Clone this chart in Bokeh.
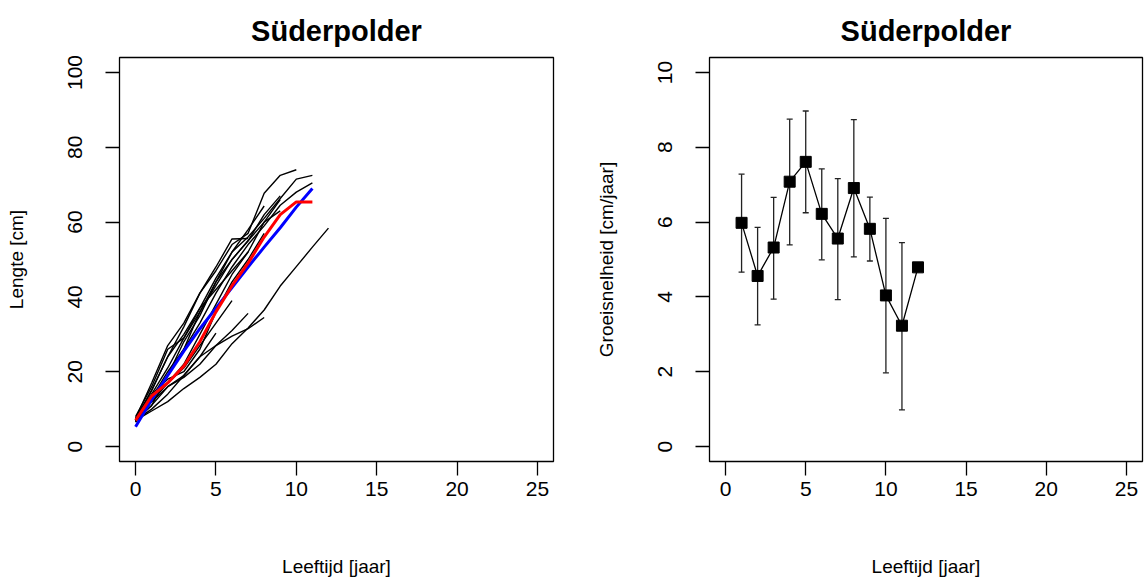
from bokeh.plotting import figure
from bokeh.layouts import row
from bokeh.models import Whisker, TeeHead, ColumnDataSource, FixedTicker, Range1d
from bokeh.embed import file_html
from bokeh.resources import INLINE

# ---------------- data ----------------
title_text = "Süderpolder"
x_label = "Leeftijd [jaar]"
y_label_left = "Lengte [cm]"
y_label_right = "Groeisnelheid [cm/jaar]"

x_ticks = [0, 5, 10, 15, 20, 25]
y_ticks_left = [0, 20, 40, 60, 80, 100]
y_ticks_right = [0, 2, 4, 6, 8, 10]

# individual back-calculated lengths (cm), index = age (years)
fish_a = [7.5, 17, 27, 33, 41, 47, 54, 57, 67.7, 72.5, 74.0]
fish_b = [7, 15, 24, 30, 37, 45, 52, 56, 61, 66.3, 71.5, 72.5]
fish_c = [6.5, 13, 20, 26, 33, 41, 48, 54, 59, 64.5, 68, 70.5]
fish_d = [7, 9.5, 12, 15.5, 18.5, 22, 27.5, 31.7, 36.5, 42.9, 48.1, 53.3, 58.4]
fish_e = [7, 11, 16, 18.5, 22, 27, 31, 35.6]
fish_f = [7, 10, 14, 19, 24, 27, 29.5, 31.5, 34.5]
fish_g = [7.5, 15, 24, 32, 41, 48, 55.5, 55.6]
fish_h = [7, 13, 19, 28, 35, 44, 52, 58, 64.3]
fish_i = [8, 16, 26, 29, 36, 43, 50, 55, 62, 67]
fish_j = [7, 12, 17, 22, 30, 38, 46, 52, 60, 66]
fish_k = [6.5, 14, 18, 20, 26, 36, 44, 50, 57]
fish_l = [7, 12, 16, 19, 24, 30.3]
fish_m = [7, 13, 17, 21, 27, 33, 39]
fish_n = [7, 14, 21, 29, 37, 42, 47, 52]
fish_o = [7, 11, 19, 26, 36, 44, 50, 55, 60, 63]
individual_fish = [fish_a, fish_b, fish_c, fish_d, fish_e, fish_f, fish_g, fish_h,
                   fish_i, fish_j, fish_k, fish_l, fish_m, fish_n, fish_o]

# mean length per age (red) and fitted growth curve (blue)
mean_age = [0, 1, 2, 3, 4, 5, 6, 7, 8, 9, 10, 11]
mean_length = [7, 13.5, 17, 21.5, 28, 36, 43, 49, 56, 62, 65.4, 65.4]
fit_age = [0, 1, 2, 3, 4, 5, 6, 7, 8, 9, 10, 11]
fit_length = [5.3, 12.5, 19, 25.5, 31.5, 37, 42.5, 48, 53.3, 58.5, 64, 69]

# growth rate (right panel)
growth_age = [1, 2, 3, 4, 5, 6, 7, 8, 9, 10, 11, 12]
growth_rate = [5.98, 4.56, 5.32, 7.08, 7.61, 6.22, 5.56, 6.91, 5.82, 4.04, 3.23, 4.79]
growth_upper = [7.28, 5.86, 6.66, 8.75, 8.97, 7.42, 7.16, 8.74, 6.67, 6.10, 5.45, None]
growth_lower = [4.66, 3.25, 3.94, 5.39, 6.25, 4.99, 3.93, 5.07, 4.96, 1.97, 0.98, None]

FONT = "Liberation Sans"


def style(p, yticks, ylabel, left_border, right_border):
    p.min_border_left = left_border
    p.min_border_right = right_border
    p.min_border_top = 57
    p.min_border_bottom = 118
    p.outline_line_color = "black"
    p.outline_line_width = 1.3
    p.background_fill_color = "white"
    p.border_fill_color = "white"
    p.grid.visible = False
    p.title.text = title_text
    p.title.align = "center"
    p.title.text_font = FONT
    p.title.text_font_size = "29px"
    p.title.text_font_style = "bold"
    p.title.text_color = "black"
    p.title.standoff = 22
    for ax in p.xaxis + p.yaxis:
        ax.axis_line_color = None
        ax.major_tick_line_color = "black"
        ax.major_tick_line_width = 1.3
        ax.major_tick_out = 14
        ax.major_tick_in = 0
        ax.minor_tick_line_color = None
        ax.major_label_text_font = FONT
        ax.major_label_text_font_size = "21px"
        ax.major_label_text_color = "black"
        ax.axis_label_text_font = FONT
        ax.axis_label_text_font_size = "19px"
        ax.axis_label_text_font_style = "normal"
        ax.axis_label_text_color = "black"
    p.xaxis.ticker = FixedTicker(ticks=x_ticks)
    p.xaxis.axis_label = x_label
    p.xaxis.major_label_standoff = 6
    p.xaxis.axis_label_standoff = 57
    p.yaxis.ticker = FixedTicker(ticks=yticks)
    p.yaxis.axis_label = ylabel
    p.yaxis.major_label_orientation = "vertical"
    p.yaxis.major_label_standoff = 23
    p.yaxis.axis_label_standoff = 39


# ---------------- left panel ----------------
p1 = figure(width=574, height=579, output_backend="svg", toolbar_location=None,
            x_range=Range1d(-1, 26), y_range=Range1d(-4, 104))
style(p1, y_ticks_left, y_label_left, 119, 21)

for fish in individual_fish:
    p1.line(list(range(len(fish))), fish, line_color="black", line_width=1.4)
p1.line(fit_age, fit_length, line_color="blue", line_width=3)
p1.line(mean_age, mean_length, line_color="red", line_width=3)

# ---------------- right panel ----------------
p2 = figure(width=574, height=579, output_backend="svg", toolbar_location=None,
            x_range=Range1d(-1, 26), y_range=Range1d(-0.4, 10.4))
style(p2, y_ticks_right, y_label_right, 135, 6)

err_idx = [i for i, u in enumerate(growth_upper) if u is not None]
err_src = ColumnDataSource(data=dict(
    x=[growth_age[i] for i in err_idx],
    upper=[growth_upper[i] for i in err_idx],
    lower=[growth_lower[i] for i in err_idx],
))
whisker = Whisker(base="x", upper="upper", lower="lower", source=err_src,
                  line_color="#222222", line_width=1.3,
                  upper_head=TeeHead(size=6, line_color="#222222", line_width=1.3),
                  lower_head=TeeHead(size=6, line_color="#222222", line_width=1.3))
p2.add_layout(whisker)
p2.line(growth_age, growth_rate, line_color="black", line_width=1.3)
p2.scatter(growth_age, growth_rate, marker="square", size=11,
           fill_color="black", line_color="black")

layout = row(p1, p2)
open("out.html", "w").write(file_html(layout, INLINE))
